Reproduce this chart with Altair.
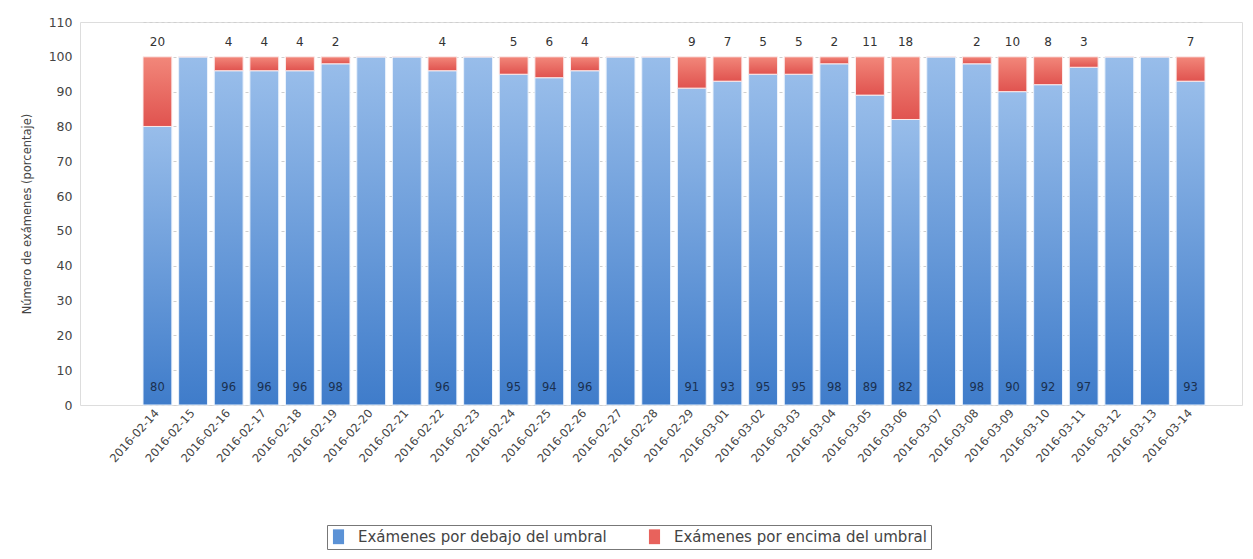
import altair as alt
import pandas as pd

# Daily exam share below / above the threshold (percent)
dates = [
    "2016-02-14", "2016-02-15", "2016-02-16", "2016-02-17", "2016-02-18",
    "2016-02-19", "2016-02-20", "2016-02-21", "2016-02-22", "2016-02-23",
    "2016-02-24", "2016-02-25", "2016-02-26", "2016-02-27", "2016-02-28",
    "2016-02-29", "2016-03-01", "2016-03-02", "2016-03-03", "2016-03-04",
    "2016-03-05", "2016-03-06", "2016-03-07", "2016-03-08", "2016-03-09",
    "2016-03-10", "2016-03-11", "2016-03-12", "2016-03-13", "2016-03-14",
]
below = [80, 100, 96, 96, 96, 98, 100, 100, 96, 100, 95, 94, 96, 100, 100,
         91, 93, 95, 95, 98, 89, 82, 100, 98, 90, 92, 97, 100, 100, 93]
above = [20, 0, 4, 4, 4, 2, 0, 0, 4, 0, 5, 6, 4, 0, 0,
         9, 7, 5, 5, 2, 11, 18, 0, 2, 10, 8, 3, 0, 0, 7]
y_ticks = [0, 10, 20, 30, 40, 50, 60, 70, 80, 90, 100, 110]

series_names = ["Exámenes por debajo del umbral", "Exámenes por encima del umbral"]
blue, red = "#5b92d6", "#e8625c"

df = pd.DataFrame({"fecha": dates, "debajo": below, "encima": above})
df["total"] = df["debajo"] + df["encima"]
labeled = df[df["encima"] > 0]

W, H = 1162, 383
FONT = "DejaVu Sans"

x_enc = alt.X(
    "fecha:N",
    sort=dates,
    scale=alt.Scale(range=[63, 1125], paddingInner=0.19, paddingOuter=0),
    axis=alt.Axis(
        title=None, labelAngle=-48, labelFontSize=11.5, labelColor="#444",
        labelFont=FONT, ticks=False, domain=False, labelPadding=6,
        labelAlign="right", labelBaseline="middle",
    ),
)
y_scale = alt.Scale(domain=[0, 110], nice=False)
y_axis = alt.Axis(
    title="Número de exámenes (porcentaje)", values=y_ticks, labelOverlap=False,
    grid=True, gridDash=[3, 3], gridColor="#cfcfcf", domain=False,
    ticks=False, labelPadding=8, labelFontSize=12.5, labelColor="#444",
    labelFont=FONT, titleFont=FONT, titleFontSize=11.5, titleFontWeight="normal",
    titleColor="#444", titlePadding=16,
)

blue_grad = alt.Gradient(
    gradient="linear", x1=0, x2=0, y1=0, y2=1,
    stops=[alt.GradientStop(color="#98bdea", offset=0),
           alt.GradientStop(color="#3f7cca", offset=1)],
)
red_grad = alt.Gradient(
    gradient="linear", x1=0, x2=0, y1=0, y2=1,
    stops=[alt.GradientStop(color="#f2877a", offset=0),
           alt.GradientStop(color="#e0534f", offset=1)],
)

base = alt.Chart(df)

bars_below = base.mark_bar(fill=blue_grad, stroke="#eaf2fc", strokeWidth=1).encode(
    x=x_enc,
    y=alt.Y("debajo:Q", scale=y_scale, axis=y_axis),
)

bars_above = base.mark_bar(fill=red_grad, stroke="#fbeaea", strokeWidth=1).encode(
    x=x_enc,
    y=alt.Y("debajo:Q", scale=y_scale, axis=y_axis),
    y2="total:Q",
)

top_text = alt.Chart(labeled).mark_text(
    baseline="bottom", dy=-8, fontSize=12, font=FONT, color="#333"
).encode(x=x_enc, y=alt.Y("total:Q", scale=y_scale, axis=y_axis), text="encima:Q")

bottom_text = alt.Chart(labeled).mark_text(
    baseline="middle", dy=-17, fontSize=11.5, font=FONT, color="#1a3050"
).encode(x=x_enc, y=alt.datum(0, scale=y_scale, axis=y_axis), text="debajo:Q")

legend_df = pd.DataFrame({"serie": series_names})
legend_layer = alt.Chart(legend_df).mark_point(
    opacity=0, filled=True, shape="square"
).encode(
    color=alt.Color(
        "serie:N",
        scale=alt.Scale(domain=series_names, range=[blue, red]),
        legend=alt.Legend(
            title=None, orient="none", legendX=247, legendY=503,
            direction="horizontal", symbolType="M-0.75,-1H0.75V1H-0.75Z",
            symbolSize=220, symbolOpacity=1, symbolStrokeWidth=0,
            labelFontSize=15, labelFont=FONT, labelColor="#444", labelLimit=0,
            strokeColor="#777", padding=4, columnPadding=40, labelOffset=12,
        ),
    ),
)

chart = alt.layer(
    bars_below, bars_above, top_text, bottom_text, legend_layer
).properties(
    width=W, height=H,
    autosize=alt.AutoSizeParams(type="none"),
    padding={"left": 80, "top": 22, "right": 11, "bottom": 154},
).configure_view(stroke=None).configure(background="white")

chart.save("out.html", embed_options={"renderer": "svg", "actions": False})
